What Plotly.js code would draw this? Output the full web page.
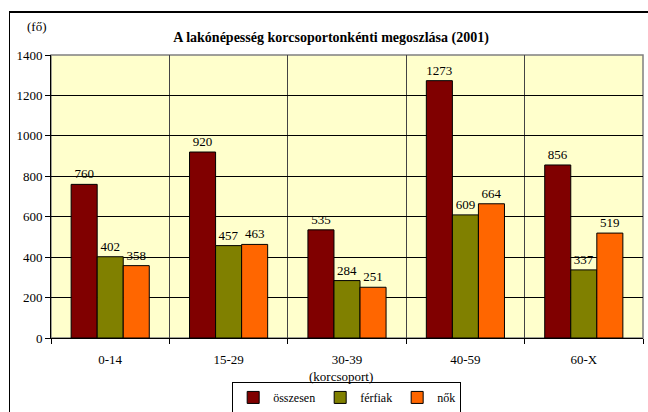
<!DOCTYPE html>
<html>
<head>
<meta charset="utf-8">
<script src="https://cdn.plot.ly/plotly-3.0.1.min.js"></script>
<style>
  body { margin: 0; background: #fff; }
  #chart { width: 648px; height: 412px; }
  #frame {
    position: absolute; left: 9px; top: 11px; width: 700px; height: 500px;
    border-left: 1px solid #000; border-top: 2px solid #000; pointer-events: none;
  }
</style>
</head>
<body>
<div id="chart"></div>
<div id="frame"></div>
<script>
// Data

const ageGroups = ["0-14", "15-29", "30-39", "40-59", "60-X"];
const osszesen = [760, 920, 535, 1273, 856];
const ferfiak = [402, 457, 284, 609, 337];
const nok = [358, 463, 251, 664, 519];

const seriesNames = ["összesen", "férfiak", "nők"];
const seriesColors = ["#800000", "#808000", "#FF6600"];

const serif = "Times New Roman, Liberation Serif, serif";

// Traces

const makeTrace = function (values, i) {
  return {
    x: ageGroups,
    y: values,
    name: seriesNames[i],
    type: "bar",
    marker: { color: seriesColors[i], line: { color: "#000", width: 1 } },
    text: values.map(String),
    textposition: "outside",
    cliponaxis: false,
    textfont: { family: serif, size: 13, color: "#000" },
  };
};

const data = [osszesen, ferfiak, nok].map(makeTrace);

// Layout

const layout = {
  width: 648,
  height: 412,
  margin: { l: 51, r: 5, t: 55, b: 74, autoexpand: false },
  paper_bgcolor: "#fff",
  plot_bgcolor: "#FFFFCC",
  font: { family: serif, size: 13, color: "#000" },
  barmode: "group",
  bargap: 0.34,
  bargroupgap: 0,
  showlegend: true,
  title: {
    text: "<b>A lakónépesség korcsoportonkénti megoszlása (2001)</b>",
    font: { family: serif, size: 14, color: "#000" },
    xref: "container",
    yref: "container",
    x: 0.511,
    y: 0.91,
    xanchor: "center",
    yanchor: "middle",
  },
  xaxis: {
    type: "category",
    tickson: "boundaries",
    ticks: "outside",
    ticklen: 5,
    tickcolor: "#000",
    showgrid: true,
    gridcolor: "#444",
    gridwidth: 1,
    showline: true,
    linecolor: "#000",
    linewidth: 1,
    ticklabelstandoff: 9,
    tickfont: { family: serif, size: 13 },
    fixedrange: true,
  },
  yaxis: {
    range: [0, 1400],
    dtick: 200,
    ticks: "outside",
    ticklen: 5,
    tickcolor: "#000",
    showgrid: true,
    gridcolor: "#000",
    gridwidth: 1,
    showline: true,
    linecolor: "#000",
    linewidth: 1,
    zeroline: false,
    tickfont: { family: serif, size: 13 },
    fixedrange: true,
  },
  shapes: [
    {
      type: "rect",
      xref: "paper",
      yref: "paper",
      x0: 0,
      x1: 1,
      y0: 0,
      y1: 1,
      line: { color: "#808080", width: 1.5 },
      layer: "below",
    },
  ],
  annotations: [
    {
      text: "(fő)",
      xref: "paper",
      yref: "paper",
      x: -0.024,
      y: 1.099,
      xanchor: "center",
      yanchor: "middle",
      showarrow: false,
      font: { family: serif, size: 13 },
    },
    {
      text: "(korcsoport)",
      xref: "paper",
      yref: "paper",
      x: 0.49,
      y: -0.136,
      xanchor: "center",
      yanchor: "middle",
      showarrow: false,
      font: { family: serif, size: 13 },
    },
  ],
  legend: {
    orientation: "h",
    xref: "container",
    yref: "container",
    x: 0.535,
    xanchor: "center",
    y: 0.073,
    yanchor: "top",
    bordercolor: "#000",
    borderwidth: 1,
    bgcolor: "#fff",
    font: { family: serif, size: 12 },
    itemwidth: 30,
    tracegroupgap: 0,
  },
};

Plotly.newPlot("chart", data, layout, { displayModeBar: false, staticPlot: true });
</script>
</body>
</html>
